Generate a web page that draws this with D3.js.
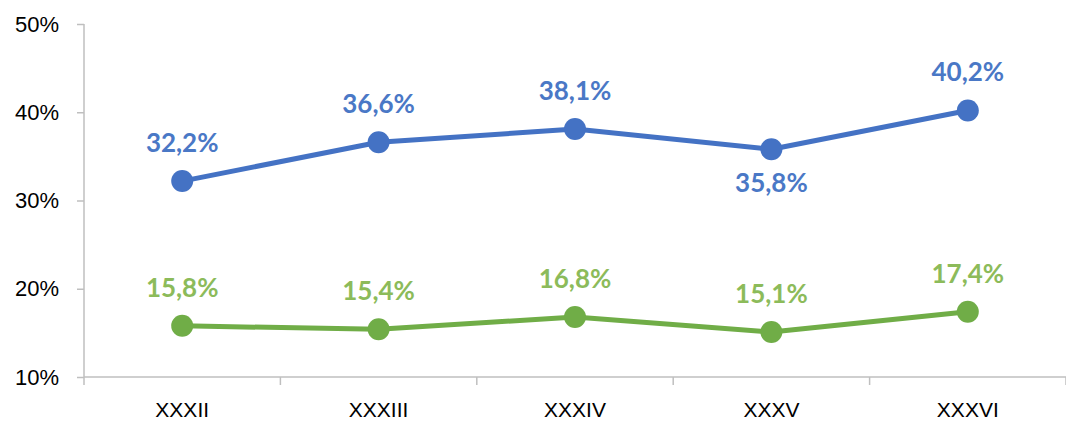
<!DOCTYPE html>
<html>
<head>
<meta charset="utf-8">
<script src="https://cdn.jsdelivr.net/npm/d3@7"></script>
<style>
  body { margin: 0; background: #fff; }
  svg { display: block; font-family: Lato, "Open Sans", sans-serif; }
</style>
</head>
<body>
<svg id="chart" width="1066" height="422"></svg>
<script>
// Data
const categories = ["XXXII", "XXXIII", "XXXIV", "XXXV", "XXXVI"]
const blueValues = [32.2, 36.6, 38.1, 35.8, 40.2]
const greenValues = [15.8, 15.4, 16.8, 15.1, 17.4]
const blueLabelPos = ["above", "above", "above", "below", "above"]
const greenLabelPos = ["above", "above", "above", "above", "above"]
const yTicks = [10, 20, 30, 40, 50]

const svg = d3.select("#chart")
const plotLeft = 84, plotRight = 1066, plotTop = 24, plotBottom = 377

const x = d3.scaleBand().domain(categories).range([plotLeft, plotRight])
const y = d3.scaleLinear().domain([10, 50]).range([plotBottom, plotTop])
const fmt = v => d3.format(".1f")(v).replace(".", ",") + "%"

const axisColor = "#bfbfbf"

// Y axis
const yAxis = svg.append("g")
  .attr("transform", `translate(${plotLeft},0)`)
  .call(d3.axisLeft(y).tickValues(yTicks).tickSize(7).tickPadding(18).tickFormat(d => d + "%"))
yAxis.select(".domain").attr("stroke", axisColor).attr("stroke-width", 1.5).attr("d", `M0,${plotTop}V${plotBottom}`)
yAxis.selectAll(".tick line").attr("stroke", axisColor).attr("stroke-width", 1.5)
yAxis.selectAll("text").style("font-size", "22px").attr("fill", "#000")

// X axis
const xAxis = svg.append("g")
  .attr("transform", `translate(0,${plotBottom})`)
  .call(d3.axisBottom(x).tickSize(0).tickPadding(25))
xAxis.select(".domain").attr("stroke", axisColor).attr("stroke-width", 1.5).attr("d", `M${plotLeft},0H${plotRight}`)
xAxis.selectAll("text").style("font-size", "21px").attr("fill", "#000")

// Category boundary ticks
const bounds = categories.map(c => x(c)).concat([plotRight])
svg.append("g").selectAll("line")
  .data(bounds)
  .join("line")
  .attr("x1", d => d).attr("x2", d => d)
  .attr("y1", plotBottom).attr("y2", plotBottom + 8)
  .attr("stroke", axisColor).attr("stroke-width", 1.5)

function drawSeries(values, color, labelColor, positions) {
  const pts = values.map((v, i) => ({ cat: categories[i], v, pos: positions[i] }))
  const cx = d => x(d.cat) + x.bandwidth() / 2

  svg.append("path")
    .datum(pts)
    .attr("fill", "none")
    .attr("stroke", color)
    .attr("stroke-width", 5)
    .attr("stroke-linejoin", "round")
    .attr("d", d3.line().x(cx).y(d => y(d.v)))

  svg.append("g").selectAll("circle")
    .data(pts)
    .join("circle")
    .attr("cx", cx)
    .attr("cy", d => y(d.v))
    .attr("r", 11)
    .attr("fill", color)

  svg.append("g").selectAll("text")
    .data(pts)
    .join("text")
    .attr("x", cx)
    .attr("y", d => d.pos === "above" ? y(d.v) - 29 : y(d.v) + 43)
    .attr("text-anchor", "middle")
    .style("font-size", "26px")
    .style("font-weight", "bold")
    .attr("fill", labelColor)
    .text(d => fmt(d.v))
}

drawSeries(blueValues, "#4472c4", "#4a78c6", blueLabelPos)
drawSeries(greenValues, "#70ad47", "#8cbb5a", greenLabelPos)
</script>
</body>
</html>
